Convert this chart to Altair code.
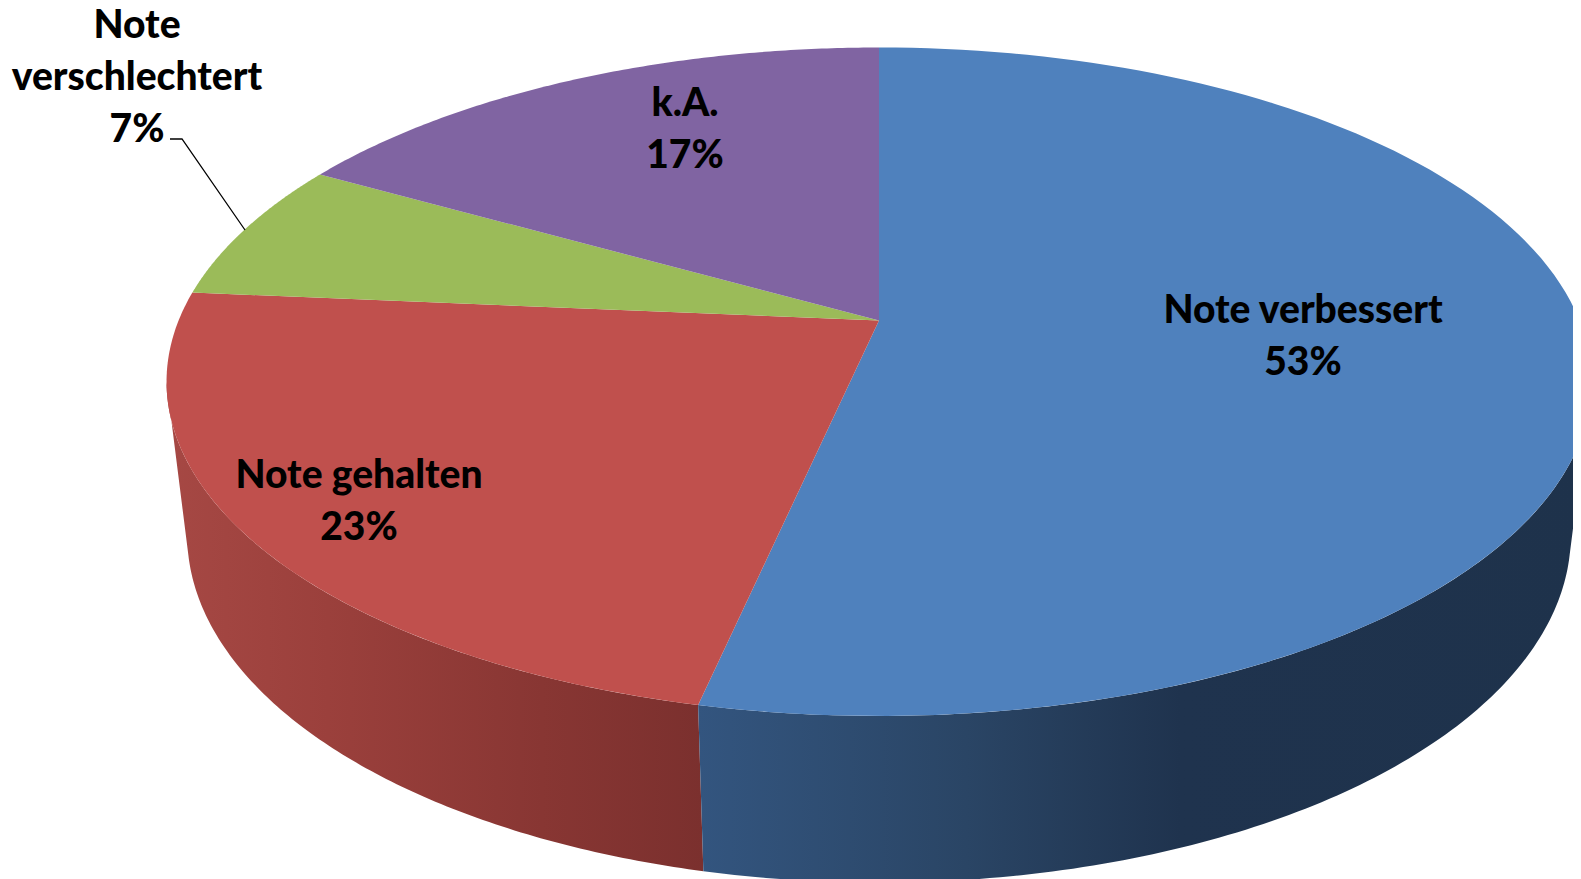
import math
import altair as alt
import pandas as pd

# Values
categories = ["Note verbessert", "Note gehalten", "Note verschlechtert", "k.A."]
shares = [53.4, 23.0, 6.8, 16.8]
face_colors = ["#4f81bd", "#c0504d", "#9bbb59", "#8064a2"]

label_lines = ["Note", "verschlechtert", "7%", "k.A.", "17%", "Note verbessert", "53%", "Note gehalten", "23%"]
label_x = [137, 137, 137, 685, 685, 1303, 1303, 359, 359]
label_y = [25.5, 77.5, 129.5, 103.5, 155.5, 310.5, 362.5, 475.5, 527.5]

leader_x = [170, 182, 245]
leader_y = [139, 139, 230]

# Perspective of the pie (reference pixels)
CX, CY, A, B, K = 879.0, 320.5, 700.4, 323.0, 0.1832
RIM_SCALE_X, RIM_SCALE_Y, RIM_MID, LOW_MID = 0.971, 1.04, 381.75, 535.0
LEFT_TURN, RIGHT_TURN = 259.4, 100.6
LOW_LEFT, LOW_RIGHT = 256.2, 103.8

VIEW_W, VIEW_H = 1565, 871


def top_rim(deg):
    t = math.radians(deg)
    X, Y = math.sin(t), math.cos(t)
    d = 1 + K * Y
    return CX + A * X / d, CY - B * Y / d


def low_rim(deg):
    x, y = top_rim(deg)
    return CX + (x - CX) * RIM_SCALE_X, LOW_MID + (y - RIM_MID) * RIM_SCALE_Y


def sweep(a, b, n=120):
    return [a + (b - a) * i / n for i in range(n + 1)]


def frame(points):
    return pd.DataFrame({"i": range(len(points)),
                         "px": [p[0] for p in points],
                         "py": [p[1] for p in points]})


X_ENC = alt.X("px:Q", axis=None, scale=alt.Scale(domain=[8, 8 + VIEW_W], nice=False, zero=False))
Y_ENC = alt.Y("py:Q", axis=None, scale=alt.Scale(domain=[8, 8 + VIEW_H], reverse=True, nice=False, zero=False))


def polygon(points, fill):
    return alt.Chart(frame(points)).mark_line(
        fill=fill, strokeWidth=0, interpolate="linear-closed", clip=True
    ).encode(x=X_ENC, y=Y_ENC, order="i:Q")


def grad(stops):
    return alt.Gradient(
        gradient="linear", x1=0, x2=1, y1=0, y2=0,
        stops=[alt.GradientStop(offset=o, color=c) for o, c in stops],
    )


edges = [0.0]
for s in shares:
    edges.append(edges[-1] + s * 3.6)

layers = []
# Side walls
red_wall = [top_rim(d) for d in sweep(edges[1], LEFT_TURN)] + [low_rim(d) for d in sweep(LOW_LEFT, edges[1])]
blue_wall = [top_rim(d) for d in sweep(RIGHT_TURN, edges[1])] + [low_rim(d) for d in sweep(edges[1], LOW_RIGHT)]
layers.append(polygon(red_wall, grad([(0, "#a64844"), (0.3, "#9b403c"), (0.7, "#883633"), (1, "#7b302e")])))
layers.append(polygon(blue_wall, grad([(0, "#33557f"), (0.3, "#2a4565"), (0.54, "#1f334e"), (1, "#1e324b")])))

# Top faces
for i in range(len(shares)):
    pts = [(CX, CY)] + [top_rim(d) for d in sweep(edges[i], edges[i + 1])]
    layers.append(polygon(pts, face_colors[i]))

# Leader line
layers.append(
    alt.Chart(pd.DataFrame({"i": range(3), "px": leader_x, "py": leader_y}))
    .mark_line(color="#000000", strokeWidth=1.3)
    .encode(x=X_ENC, y=Y_ENC, order="i:Q")
)

# Labels
layers.append(
    alt.Chart(pd.DataFrame({"t": label_lines, "px": label_x, "py": label_y}))
    .mark_text(font="Lato", fontWeight=900, fontSize=39, color="#000000", baseline="middle", align="center")
    .encode(x=X_ENC, y=Y_ENC, text="t:N")
)

chart = (
    alt.layer(*layers)
    .properties(width=VIEW_W, height=VIEW_H, padding=0, autosize=alt.AutoSizeParams(type="none"))
    .configure_view(strokeWidth=0)
)
chart.save("out.html", embed_options={"renderer": "svg", "actions": False})
